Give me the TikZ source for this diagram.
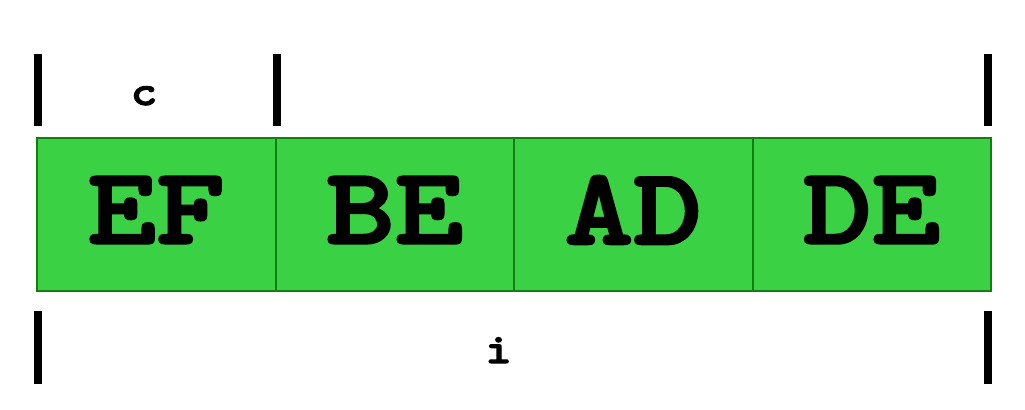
\documentclass[tikz,border=0pt]{standalone}
\usepackage{fontspec}
\newfontfamily\cellfont{lmmonolt10-bold.otf}[FakeStretch=1.2, FakeBold=2.5]
\usepackage{xcolor}
\usepackage{tikz}
\usetikzlibrary{positioning}

\definecolor{cellgreen}{RGB}{58,209,68}
\definecolor{celledge}{RGB}{20,125,20}

\begin{document}
\begin{tikzpicture}[
    node distance=0cm,
    cell/.style={draw=celledge, fill=cellgreen, line width=0.02cm, outer sep=0pt, inner sep=0pt, minimum width=2.385cm, minimum height=1.53cm, text depth=0.09cm, font=\cellfont\fontsize{31}{31}\selectfont},
    tick/.style={line width=0.08cm},
    lbl/.style={anchor=base, inner sep=0pt, font=\cellfont\fontsize{12}{12}\selectfont}
]
\useasboundingbox (0,0) rectangle (10.25,-4.10);

\node[cell, anchor=north west] (ef) at (0.37,-1.38) {EF};
\node[cell, right=of ef] (be) {BE};
\node[cell, right=of be] (ad) {AD};
\node[cell, right=of ad] (de) {DE};

% top markers
\draw[tick] ([xshift=0.01cm, yshift=0.12cm]ef.north west) -- ++(0,0.72);
\draw[tick] ([xshift=0.01cm, yshift=0.12cm]be.north west) -- ++(0,0.72);
\draw[tick] ([xshift=-0.03cm, yshift=0.12cm]de.north east) -- ++(0,0.72);
\node[lbl] (clbl) at (1.44,-1.05) {c};

% bottom markers
\draw[tick] ([xshift=0.01cm, yshift=-0.2cm]ef.south west) -- ++(0,-0.73);
\draw[tick] ([xshift=-0.03cm, yshift=-0.2cm]de.south east) -- ++(0,-0.73);
\node[lbl] (ilbl) at (4.985,-3.63) {i};
\end{tikzpicture}
\end{document}
